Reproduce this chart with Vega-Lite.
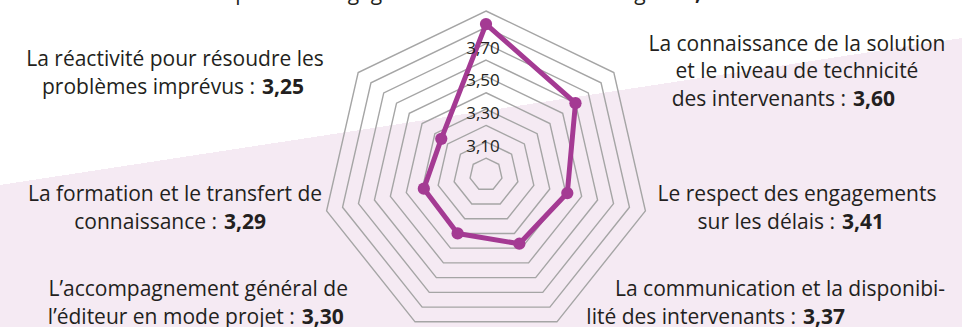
{
  "$schema": "https://vega.github.io/schema/vega-lite/v6.json",
  "width": 962,
  "height": 327,
  "padding": 0,
  "autosize": {"type": "none"},
  "background": "#ffffff",
  "view": {
    "stroke": null,
    "fill": {
      "gradient": "linear",
      "x1": 0, "y1": 0, "x2": 0.4495, "y2": 1,
      "stops": [
        {"offset": 0, "color": "#ffffff"},
        {"offset": 0.4706, "color": "#ffffff"},
        {"offset": 0.4706, "color": "#f5eaf3"},
        {"offset": 1, "color": "#f5eaf3"}
      ]
    }
  },
  "config": {
    "locale": {"number": {"decimal": ",", "thousands": " ", "grouping": [3], "currency": ["", " €"]}},
    "text": {"font": "Open Sans"}
  },
  "datasets": {
    "series": [
      {"k": 0, "critere": "Le respect des engagements en termes de budget", "valeur": 3.82},
      {"k": 1, "critere": "La connaissance de la solution et le niveau de technicité des intervenants", "valeur": 3.60},
      {"k": 2, "critere": "Le respect des engagements sur les délais", "valeur": 3.41},
      {"k": 3, "critere": "La communication et la disponibilité des intervenants", "valeur": 3.37},
      {"k": 4, "critere": "L’accompagnement général de l’éditeur en mode projet", "valeur": 3.30},
      {"k": 5, "critere": "La formation et le transfert de connaissance", "valeur": 3.29},
      {"k": 6, "critere": "La réactivité pour résoudre les problèmes imprévus", "valeur": 3.25}
    ],
    "rings": [
      {"ring": 3.0, "k": 0}, {"ring": 3.0, "k": 1}, {"ring": 3.0, "k": 2}, {"ring": 3.0, "k": 3}, {"ring": 3.0, "k": 4}, {"ring": 3.0, "k": 5}, {"ring": 3.0, "k": 6},
      {"ring": 3.1, "k": 0}, {"ring": 3.1, "k": 1}, {"ring": 3.1, "k": 2}, {"ring": 3.1, "k": 3}, {"ring": 3.1, "k": 4}, {"ring": 3.1, "k": 5}, {"ring": 3.1, "k": 6},
      {"ring": 3.2, "k": 0}, {"ring": 3.2, "k": 1}, {"ring": 3.2, "k": 2}, {"ring": 3.2, "k": 3}, {"ring": 3.2, "k": 4}, {"ring": 3.2, "k": 5}, {"ring": 3.2, "k": 6},
      {"ring": 3.3, "k": 0}, {"ring": 3.3, "k": 1}, {"ring": 3.3, "k": 2}, {"ring": 3.3, "k": 3}, {"ring": 3.3, "k": 4}, {"ring": 3.3, "k": 5}, {"ring": 3.3, "k": 6},
      {"ring": 3.4, "k": 0}, {"ring": 3.4, "k": 1}, {"ring": 3.4, "k": 2}, {"ring": 3.4, "k": 3}, {"ring": 3.4, "k": 4}, {"ring": 3.4, "k": 5}, {"ring": 3.4, "k": 6},
      {"ring": 3.5, "k": 0}, {"ring": 3.5, "k": 1}, {"ring": 3.5, "k": 2}, {"ring": 3.5, "k": 3}, {"ring": 3.5, "k": 4}, {"ring": 3.5, "k": 5}, {"ring": 3.5, "k": 6},
      {"ring": 3.6, "k": 0}, {"ring": 3.6, "k": 1}, {"ring": 3.6, "k": 2}, {"ring": 3.6, "k": 3}, {"ring": 3.6, "k": 4}, {"ring": 3.6, "k": 5}, {"ring": 3.6, "k": 6},
      {"ring": 3.7, "k": 0}, {"ring": 3.7, "k": 1}, {"ring": 3.7, "k": 2}, {"ring": 3.7, "k": 3}, {"ring": 3.7, "k": 4}, {"ring": 3.7, "k": 5}, {"ring": 3.7, "k": 6},
      {"ring": 3.8, "k": 0}, {"ring": 3.8, "k": 1}, {"ring": 3.8, "k": 2}, {"ring": 3.8, "k": 3}, {"ring": 3.8, "k": 4}, {"ring": 3.8, "k": 5}, {"ring": 3.8, "k": 6},
      {"ring": 3.9, "k": 0}, {"ring": 3.9, "k": 1}, {"ring": 3.9, "k": 2}, {"ring": 3.9, "k": 3}, {"ring": 3.9, "k": 4}, {"ring": 3.9, "k": 5}, {"ring": 3.9, "k": 6}
    ],
    "labels": [
      {"k": 0, "line": 0, "text": "Le respect des engagements en termes de budget :"},
      {"k": 1, "line": 0, "text": "La connaissance de la solution"},
      {"k": 1, "line": 1, "text": "et le niveau de technicité"},
      {"k": 1, "line": 2, "text": "des intervenants :"},
      {"k": 2, "line": 0, "text": "Le respect des engagements"},
      {"k": 2, "line": 1, "text": "sur les délais :"},
      {"k": 3, "line": 0, "text": "La communication et la disponibi-"},
      {"k": 3, "line": 1, "text": "lité des intervenants :"},
      {"k": 4, "line": 0, "text": "L’accompagnement général de"},
      {"k": 4, "line": 1, "text": "l’éditeur en mode projet :"},
      {"k": 5, "line": 0, "text": "La formation et le transfert de"},
      {"k": 5, "line": 1, "text": "connaissance :"},
      {"k": 6, "line": 0, "text": "La réactivité pour résoudre les"},
      {"k": 6, "line": 1, "text": "problèmes imprévus :"}
    ]
  },
  "encoding": {
    "x": {"field": "px", "type": "quantitative", "axis": null, "scale": {"domain": [-2.9725, 2.9113], "nice": false, "zero": false}},
    "y": {"field": "py", "type": "quantitative", "axis": null, "scale": {"domain": [-0.9327, 1.0673], "nice": false, "zero": false}}
  },
  "layer": [
    {
      "data": {"name": "rings"},
      "transform": [
        {"calculate": "datum.k * 2 * PI / 7", "as": "ang"},
        {"calculate": "(datum.ring - 2.9) * sin(datum.ang)", "as": "px"},
        {"calculate": "(datum.ring - 2.9) * cos(datum.ang)", "as": "py"}
      ],
      "mark": {"type": "line", "interpolate": "linear-closed", "color": "#a5a5a5", "strokeWidth": 1.4},
      "encoding": {
        "detail": {"field": "ring", "type": "nominal"},
        "order": {"field": "k", "type": "quantitative"}
      }
    },
    {
      "data": {"name": "series"},
      "transform": [
        {"calculate": "datum.k * 2 * PI / 7", "as": "ang"},
        {"calculate": "(datum.valeur - 2.9) * sin(datum.ang)", "as": "px"},
        {"calculate": "(datum.valeur - 2.9) * cos(datum.ang)", "as": "py"}
      ],
      "layer": [
        {
          "mark": {"type": "line", "interpolate": "linear-closed", "color": "#a43a93", "strokeWidth": 5, "strokeJoin": "round"},
          "encoding": {"order": {"field": "k", "type": "quantitative"}}
        },
        {
          "mark": {"type": "circle", "color": "#a43a93", "opacity": 1, "size": 150},
          "encoding": {"tooltip": [{"field": "critere"}, {"field": "valeur", "format": ".2f"}]}
        }
      ]
    },
    {
      "data": {"name": "rings"},
      "transform": [
        {"filter": {"field": "k", "equal": 0}},
        {"filter": {"field": "ring", "oneOf": [3.1, 3.3, 3.5, 3.7]}},
        {"calculate": "0", "as": "px"},
        {"calculate": "datum.ring - 2.9", "as": "py"}
      ],
      "mark": {"type": "text", "fontSize": 17, "baseline": "top", "align": "center", "dx": -3, "dy": -3, "color": "#231f20"},
      "encoding": {"text": {"field": "ring", "type": "quantitative", "format": ".2f"}}
    },
    {
      "data": {"name": "labels"},
      "transform": [
        {"joinaggregate": [{"op": "max", "field": "line", "as": "nl"}], "groupby": ["k"]},
        {"calculate": "datum.line == datum.nl", "as": "isLast"},
        {"lookup": "k", "from": {"data": {"name": "series"}, "key": "k", "fields": ["valeur"]}},
        {"calculate": "[1.069, 0.7554, -0.1621, -0.7431, -0.7431, -0.1621, 0.6636][datum.k] - 0.1682 * datum.line", "as": "py"}
      ],
      "layer": [
        {
          "transform": [
            {"filter": "!datum.isLast && datum.k != 3 && datum.k != 4"},
            {"calculate": "datum.k <= 3 ? 1.902 : -1.902", "as": "px"}
          ],
          "mark": {"type": "text", "fontSize": 21, "align": "center", "baseline": "alphabetic", "color": "#231f20"},
          "encoding": {"text": {"field": "text"}}
        },
        {
          "transform": [
            {"filter": "!datum.isLast && datum.k == 3"},
            {"calculate": "0.789", "as": "px"}
          ],
          "mark": {"type": "text", "fontSize": 21, "align": "left", "baseline": "alphabetic", "color": "#231f20"},
          "encoding": {"text": {"field": "text"}}
        },
        {
          "transform": [
            {"filter": "!datum.isLast && datum.k == 4"},
            {"calculate": "-0.844", "as": "px"}
          ],
          "mark": {"type": "text", "fontSize": 21, "align": "right", "baseline": "alphabetic", "color": "#231f20"},
          "encoding": {"text": {"field": "text"}}
        },
        {
          "transform": [
            {"filter": "datum.isLast"},
            {"calculate": "[1.205, 2.245, 2.177, 1.939, -1.127, -1.602, -1.370][datum.k]", "as": "px"}
          ],
          "mark": {"type": "text", "fontSize": 21, "align": "right", "baseline": "alphabetic", "dx": -7, "color": "#231f20"},
          "encoding": {"text": {"field": "text"}}
        },
        {
          "transform": [
            {"filter": "datum.isLast"},
            {"calculate": "[1.205, 2.245, 2.177, 1.939, -1.127, -1.602, -1.370][datum.k]", "as": "px"}
          ],
          "mark": {"type": "text", "fontSize": 21, "fontWeight": "bold", "align": "left", "baseline": "alphabetic", "color": "#231f20"},
          "encoding": {"text": {"field": "valeur", "type": "quantitative", "format": ".2f"}}
        }
      ]
    }
  ]
}
